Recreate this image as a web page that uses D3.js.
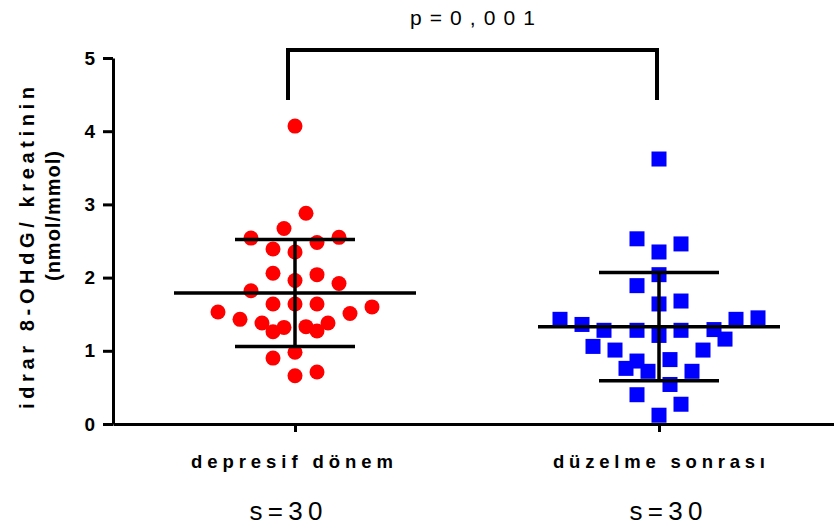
<!DOCTYPE html>
<html>
<head>
<meta charset="utf-8">
<script src="https://cdn.jsdelivr.net/npm/d3@7"></script>
<style>
  html, body { margin: 0; padding: 0; background: #fff; }
  svg { display: block; }
  text { font-family: "Liberation Sans", Arial, sans-serif; fill: #000; }
</style>
</head>
<body>
<div id="chart"></div>
<script>
// ---------- data ----------
const categories = ["depresif dönem", "düzelme sonrası"];
const nLabels = ["s=30", "s=30"];
const yTicks = [0, 1, 2, 3, 4, 5];
const pLabel = "p=0,001";
const yLabelLines = ["idrar 8-OHdG/ kreatinin", "(nmol/mmol)"];

const redValues = [4.07, 2.88, 2.67, 2.54, 2.55, 2.48, 2.39, 2.35, 2.06, 2.04,
                   1.96, 1.92, 1.82, 1.64, 1.64, 1.64, 1.60, 1.53, 1.51, 1.43,
                   1.38, 1.38, 1.32, 1.33, 1.26, 1.27, 0.98, 0.90, 0.71, 0.66];
const redSlots  = [0, 1, -1, -4, 4, 2, -2, 0, -2, 2,
                   0, 4, -4, -2, 0, 2, 7, -7, 5, -5,
                   -3, 3, -1, 1, -2, 2, 0, -2, 2, 0];

const blueValues = [3.62, 2.53, 2.46, 2.35, 2.04, 1.89, 1.68, 1.64, 1.43, 1.45,
                    1.43, 1.36, 1.28, 1.28, 1.28, 1.29, 1.21, 1.16, 1.06, 1.01,
                    1.01, 0.88, 0.86, 0.76, 0.72, 0.72, 0.54, 0.40, 0.27, 0.12];
const blueSlots  = [0, -2, 2, 0, 0, -2, 2, 0, -9, 9,
                    7, -7, -5, -2, 2, 5, 0, 6, -6, -4,
                    4, 1, -2, -3, 3, -1, 1, -2, 2, 0];

const means = [1.79, 1.33];
const sds = [0.73, 0.74];

// ---------- layout ----------
const W = 834, H = 529;
const svg = d3.select("#chart").append("svg").attr("width", W).attr("height", H);

const x = d3.scalePoint().domain(categories).range([113, 841]).padding(0.5);
const y = d3.scaleLinear().domain([0, 5]).range([424, 58]);
const slot = d3.scaleLinear().domain([0, 1]).range([0, 11]);

// ---------- points ----------
const redData = redValues.map((v, i) => ({ v, s: redSlots[i] }));
const blueData = blueValues.map((v, i) => ({ v, s: blueSlots[i] }));

svg.append("g").selectAll("circle").data(redData).join("circle")
  .attr("cx", d => x(categories[0]) + slot(d.s))
  .attr("cy", d => y(d.v))
  .attr("r", 7.5)
  .attr("fill", "#ff0000");

const sq = 15;
svg.append("g").selectAll("rect").data(blueData).join("rect")
  .attr("x", d => x(categories[1]) + slot(d.s) - sq / 2)
  .attr("y", d => y(d.v) - sq / 2)
  .attr("width", sq).attr("height", sq)
  .attr("fill", "#0000ff");

// ---------- mean & SD ----------
const stats = categories.map((c, i) => ({ c, m: means[i], sd: sds[i] }));
const gStats = svg.append("g").attr("stroke", "#000").attr("stroke-width", 3.5);
stats.forEach(d => {
  const cx = x(d.c);
  gStats.append("line").attr("x1", cx - 121).attr("x2", cx + 121)
    .attr("y1", y(d.m)).attr("y2", y(d.m));
  gStats.append("line").attr("x1", cx).attr("x2", cx)
    .attr("y1", y(d.m + d.sd)).attr("y2", y(d.m - d.sd));
  gStats.append("line").attr("x1", cx - 60).attr("x2", cx + 60)
    .attr("y1", y(d.m + d.sd)).attr("y2", y(d.m + d.sd));
  gStats.append("line").attr("x1", cx - 60).attr("x2", cx + 60)
    .attr("y1", y(d.m - d.sd)).attr("y2", y(d.m - d.sd));
});

// ---------- axes ----------
const yAxis = svg.append("g").attr("transform", "translate(113,0)")
  .call(d3.axisLeft(y).tickValues(yTicks).tickFormat(d3.format("d"))
    .tickSize(10).tickSizeOuter(0).tickPadding(8));
yAxis.select(".domain").attr("stroke-width", 3);
yAxis.selectAll(".tick line").attr("stroke-width", 3);
yAxis.selectAll(".tick text")
  .style("font-family", "'Liberation Sans', Arial, sans-serif")
  .style("font-size", "19px").style("font-weight", "bold");

const xAxis = svg.append("g").attr("transform", "translate(0,424)")
  .call(d3.axisBottom(x).tickSize(8).tickSizeOuter(0).tickFormat(""));
xAxis.select(".domain").attr("stroke-width", 3);
xAxis.selectAll(".tick line").attr("stroke-width", 3);

// category labels
svg.append("g").selectAll("text").data(categories).join("text")
  .attr("x", (d, i) => x(d) + (i === 0 ? -3 : 0))
  .attr("y", 468)
  .attr("text-anchor", "middle")
  .attr("textLength", (d, i) => i === 0 ? 202 : 212)
  .attr("lengthAdjust", "spacing")
  .style("font-size", "18.5px").style("font-weight", "bold")
  .text(d => d);

// n labels
svg.append("g").selectAll("text").data(nLabels).join("text")
  .attr("x", (d, i) => x(categories[i]) + (i === 0 ? -9 : 7))
  .attr("y", 520)
  .attr("text-anchor", "middle")
  .attr("textLength", 73)
  .attr("lengthAdjust", "spacing")
  .style("font-size", "26px")
  .text(d => d);

// y label
const yl = svg.append("g");
yl.append("text")
  .attr("transform", "translate(34,248) rotate(-90)")
  .attr("text-anchor", "middle")
  .attr("textLength", 322).attr("lengthAdjust", "spacing")
  .style("font-size", "20px").style("font-weight", "bold")
  .text(yLabelLines[0]);
yl.append("text")
  .attr("transform", "translate(60,216) rotate(-90)")
  .attr("text-anchor", "middle")
  .attr("textLength", 130).attr("lengthAdjust", "spacing")
  .style("font-size", "20px").style("font-weight", "bold")
  .text(yLabelLines[1]);

// significance bracket
const bx1 = x(categories[0]) - 7, bx2 = x(categories[1]) - 2;
svg.append("path")
  .attr("d", `M${bx1},100 V50 H${bx2} V100`)
  .attr("fill", "none").attr("stroke", "#000").attr("stroke-width", 4);
svg.append("text")
  .attr("x", (bx1 + bx2) / 2).attr("y", 25)
  .attr("text-anchor", "middle")
  .attr("textLength", 125).attr("lengthAdjust", "spacing")
  .style("font-size", "21px")
  .text(pLabel);
</script>
</body>
</html>
